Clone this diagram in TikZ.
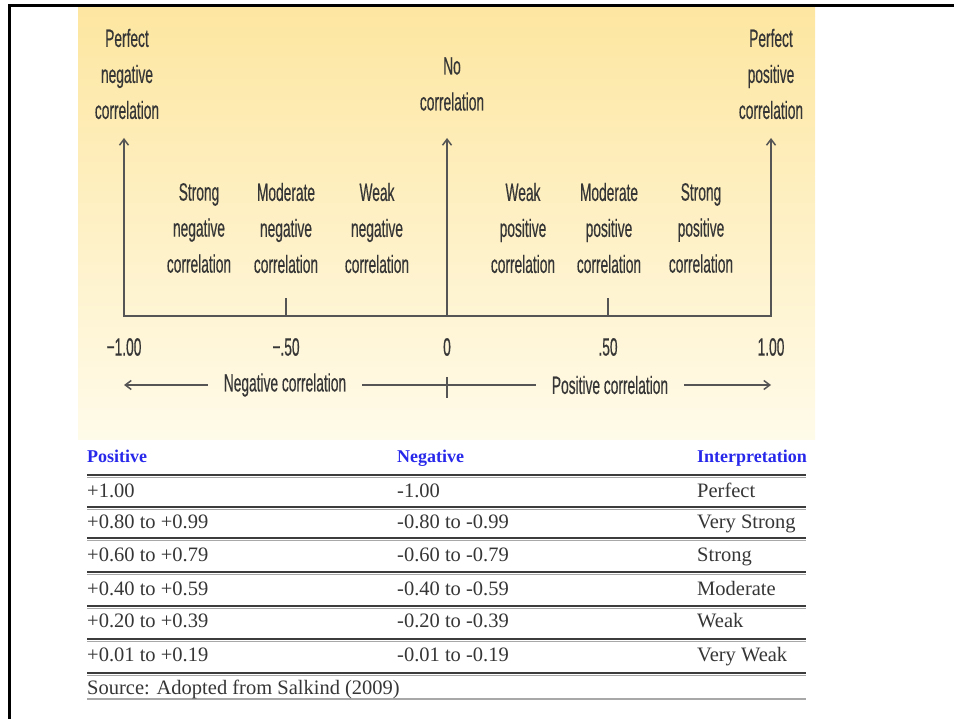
\documentclass[tikz,border=0pt]{standalone}
\usepackage{fontspec}
\usetikzlibrary{arrows.meta}
\newfontfamily\condsans[FakeStretch=0.55,FakeBold=0.4]{Liberation Sans}
\newfontfamily\tabserif{Liberation Serif}
\definecolor{inkgray}{HTML}{363636}
\definecolor{axisgray}{HTML}{555555}
\definecolor{paneltop}{RGB}{253,230,160}
\definecolor{panelbot}{RGB}{255,251,234}
\definecolor{headblue}{RGB}{40,40,235}
\definecolor{ruledark}{HTML}{3C3C3C}
\definecolor{rulelight}{HTML}{A8A8A8}
\tikzset{
  lbl/.style={font=\condsans\fontsize{25}{36}\selectfont, text=inkgray, align=center, inner sep=0pt},
  axlab/.style={lbl, inner xsep=16pt},
  axisline/.style={draw=axisgray, line width=1.5pt},
  axarrow/.style={axisline, -{Straight Barb[length=6pt,width=9pt,line width=1.5pt]}},
  bothtips/.style={axisline, {Straight Barb[length=6pt,width=9pt,line width=1.5pt]}-{Straight Barb[length=6pt,width=9pt,line width=1.5pt]}},
  cell/.style={font=\tabserif\fontsize{20.5}{24}\selectfont, text=inkgray, anchor=base west, inner sep=0pt},
  headcell/.style={font=\tabserif\bfseries\fontsize{18}{22}\selectfont, text=headblue, anchor=base west, inner sep=0pt},
  frameline/.style={draw=black, line width=3pt}
}
\begin{document}
\begin{tikzpicture}[x=1pt, y=-1pt]
\useasboundingbox (0,0) rectangle (954,719);

% shaded panel behind the correlation scale
\shade[top color=paneltop, bottom color=panelbot] (78,6) rectangle (815,440);

% page frame (left and top edges)
\coordinate (fbl) at (9,719);
\coordinate (ftl) at (9,5.5);
\coordinate (ftr) at (954,5.5);
\draw[frameline] (fbl) -- (ftl) -- (ftr);

% ---- correlation scale ----
\coordinate (b100n) at (124,316);
\coordinate (b50n)  at (286,316);
\coordinate (b0)    at (447,316);
\coordinate (b50p)  at (608,316);
\coordinate (b100p) at (771,316);
\coordinate (t100n) at (124,138);
\coordinate (t0)    at (447,138);
\coordinate (t100p) at (771,138);
\coordinate (k50n)  at (286,298);
\coordinate (k50p)  at (608,298);

\draw[bothtips] (t100n) -- (b100n) -- (b100p) -- (t100p);
\draw[axarrow] (b0) -- (t0);
\draw[axisline] (b50n) -- (k50n);
\draw[axisline] (b50p) -- (k50p);

% top labels
\node[lbl] (pneg) at (127,74) {Perfect\\negative\\correlation};
\node[lbl] (nocor) at (452,84) {No\\correlation};
\node[lbl] (ppos) at (771,74) {Perfect\\positive\\correlation};

% strength labels
\node[lbl] (sneg) at (199,228) {Strong\\negative\\correlation};
\node[lbl] (mneg) at (286,228) {Moderate\\negative\\correlation};
\node[lbl] (wneg) at (377,228) {Weak\\negative\\correlation};
\node[lbl] (wpos) at (523,228) {Weak\\positive\\correlation};
\node[lbl] (mpos) at (609,228) {Moderate\\positive\\correlation};
\node[lbl] (spos) at (701,228) {Strong\\positive\\correlation};

% tick values
\node[lbl] (v100n) at (124,347) {−1.00};
\node[lbl] (v50n)  at (286,347) {−.50};
\node[lbl] (v0)    at (447,347) {0};
\node[lbl] (v50p)  at (608,347) {.50};
\node[lbl] (v100p) at (771,347) {1.00};

% direction row
\coordinate (dl) at (124,385);
\coordinate (dr) at (771,385);
\coordinate (dtu) at (447,377);
\coordinate (dtd) at (447,398);
\node[axlab] (negc) at (285,385) {Negative correlation};
\node[axlab] (posc) at (610,385) {Positive correlation};
\draw[axarrow] (negc.west) -- (dl);
\draw[axisline] (negc.east) -- (posc.west);
\draw[axarrow] (posc.east) -- (dr);
\draw[axisline] (dtu) -- (dtd);

% ---- interpretation table ----
\node[headcell] (hpos) at (87,463) {Positive};
\node[headcell] (hneg) at (397,463) {Negative};
\node[headcell] (hint) at (697,463) {Interpretation};

\foreach \y in {475,507,538,572,606,639,673}{
  \draw[draw=ruledark, line width=2pt] (87,\y) -- (806,\y);
  \draw[draw=rulelight, line width=1pt] (87,\y+2.8) -- (806,\y+2.8);
}
\draw[draw=rulelight, line width=1.5pt] (87,699) -- (806,699);

\node[cell] (p1) at (87,497) {+1.00};
\node[cell] (n1) at (397,497) {-1.00};
\node[cell] (i1) at (697,497) {Perfect};
\node[cell] (p2) at (87,528) {+0.80 to +0.99};
\node[cell] (n2) at (397,528) {-0.80 to -0.99};
\node[cell] (i2) at (697,528) {Very Strong};
\node[cell] (p3) at (87,561) {+0.60 to +0.79};
\node[cell] (n3) at (397,561) {-0.60 to -0.79};
\node[cell] (i3) at (697,561) {Strong};
\node[cell] (p4) at (87,595) {+0.40 to +0.59};
\node[cell] (n4) at (397,595) {-0.40 to -0.59};
\node[cell] (i4) at (697,595) {Moderate};
\node[cell] (p5) at (87,627) {+0.20 to +0.39};
\node[cell] (n5) at (397,627) {-0.20 to -0.39};
\node[cell] (i5) at (697,627) {Weak};
\node[cell] (p6) at (87,661) {+0.01 to +0.19};
\node[cell] (n6) at (397,661) {-0.01 to -0.19};
\node[cell] (i6) at (697,661) {Very Weak};
\node[cell] (src) at (87,694) {Source: Adopted from Salkind (2009)};
\end{tikzpicture}
\end{document}
